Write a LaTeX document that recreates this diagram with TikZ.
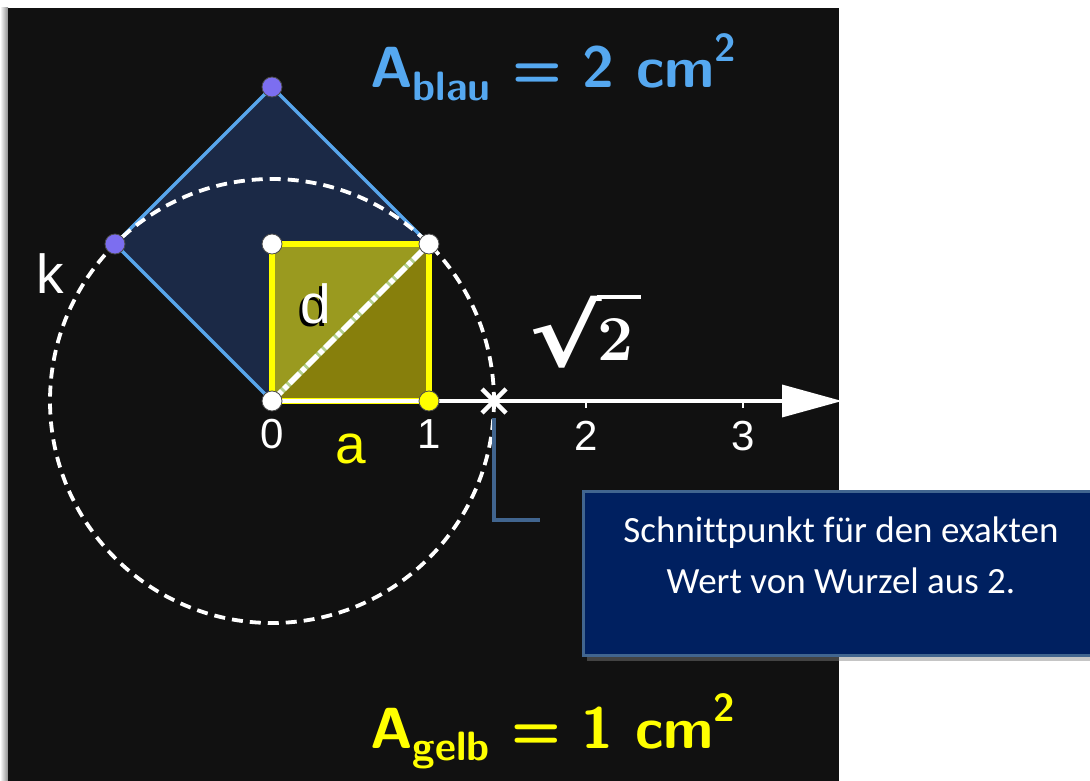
\documentclass[tikz,border=0pt]{standalone}
\usepackage{fontspec}
\usetikzlibrary{arrows.meta,shadows}
\newfontfamily\arialf{Liberation Sans}
\newfontfamily\calf[Ligatures=NoCommon]{Carlito}
\newfontfamily\djserif{DejaVu Serif}
\definecolor{panel}{HTML}{111111}
\definecolor{bluefill}{HTML}{1B2946}
\definecolor{blueedge}{HTML}{58A6EC}
\definecolor{olivelo}{HTML}{877F0C}
\definecolor{olivehi}{HTML}{9A9A1F}
\definecolor{ylw}{HTML}{FFFF00}
\definecolor{diaggreen}{HTML}{B4D08C}
\definecolor{ptpurple}{HTML}{7C6EF0}
\definecolor{callfill}{HTML}{002060}
\definecolor{calledge}{HTML}{41658F}
\definecolor{bluetext}{HTML}{55A8F0}
\tikzset{
  pt/.style={circle,draw=black!70,line width=0.8pt,inner sep=0pt,minimum size=20pt},
  whitept/.style={pt,fill=white},
  purplept/.style={pt,fill=ptpurple},
  yellowpt/.style={pt,fill=ylw},
  ticklbl/.style={text=white,font={\arialf\fontsize{42}{42}\selectfont},anchor=base,inner sep=0pt},
  letterlbl/.style={font={\arialf\fontsize{55}{55}\selectfont},anchor=base,inner sep=0pt},
  radlbl/.style={text=white,anchor=base,inner sep=0pt,font={\djserif\bfseries\fontsize{85}{85}\selectfont}},
  twolbl/.style={text=white,anchor=base,inner sep=0pt,font={\rmfamily\bfseries\fontsize{64}{64}\selectfont}},
  arealbl/.style={font={\sffamily\bfseries\fontsize{58}{58}\selectfont},anchor=base west,inner sep=0pt},
  callbox/.style={draw=calledge,line width=3pt,fill=callfill,
     drop shadow={opacity=0.45,shadow xshift=3pt,shadow yshift=-5pt}},
  calltext/.style={text=white,align=center,font={\calf\fontsize{37}{51}\selectfont}},
  conn/.style={draw=calledge,line width=3.5pt},
}
\begin{document}
\begin{tikzpicture}[x=1pt,y=-1pt]
\useasboundingbox (0,0) rectangle (1090,781);
\fill[white] (0,0) rectangle (1090,781);
\shade[left color=white,right color=black!45] (0,8) rectangle (8,781);
\fill[panel] (8,8) rectangle (839,781);

% points
\coordinate (O) at (272,401);
\coordinate (P1) at (429,401);
\coordinate (Q) at (272,244);
\coordinate (R) at (429,244);
\coordinate (T) at (272,87);
\coordinate (L) at (115,244);
\coordinate (S) at (494,401);
\coordinate (E) at (842,401);

% blue square
\filldraw[fill=bluefill,draw=blueedge,line width=3.5pt,line join=round] (O) -- (R) -- (T) -- (L) -- cycle;
% yellow square
\fill[olivelo] (O) -- (P1) -- (R) -- cycle;
\fill[olivehi] (O) -- (Q) -- (R) -- cycle;
\draw[ylw,line width=6.5pt,line join=miter] (O) -- (P1) -- (R) -- (Q) -- cycle;
% diagonal d
\draw[diaggreen,line width=5.5pt] (O) -- (R);
\draw[white,line width=5.5pt,dash pattern=on 14pt off 3pt on 5pt off 3pt] (O) -- (R);
% circle k
\draw[white,line width=3.8pt,dash pattern=on 11pt off 7pt] (O) circle[radius=222];
% axis
\draw[white,line width=3.5pt,-{Triangle[length=60pt,width=32pt]}] (O) -- (E);
\draw[white,line width=2.5pt] (586,401) -- (586,408);
\draw[white,line width=2.5pt] (743,401) -- (743,408);
% cross at sqrt 2
\draw[white,line width=4.5pt] ([shift={(-12,-12)}]S) -- ([shift={(12,12)}]S);
\draw[white,line width=4.5pt] ([shift={(-12,12)}]S) -- ([shift={(12,-12)}]S);

% vertex points
\node[whitept] (nO) at (O) {};
\node[whitept] (nQ) at (Q) {};
\node[whitept] (nR) at (R) {};
\node[yellowpt] (nP1) at (P1) {};
\node[purplept] (nT) at (T) {};
\node[purplept] (nL) at (L) {};

% labels
\node[ticklbl] (l0) at (272,448) {0};
\node[ticklbl] (l1) at (429,448) {1};
\node[ticklbl] (l2) at (586,450) {2};
\node[ticklbl] (l3) at (743,450) {3};
\node[letterlbl,text=ylw] (la) at (351,463) {a};
\node[letterlbl,text=black] (ldsh) at (313,326) {d};
\node[letterlbl,text=white] (ld) at (316,323) {d};
\node[letterlbl,text=white] (lk) at (50,293) {k};
\node[radlbl] (lrad) at (566,366) {\scalebox{1.3}[1]{√}};
\node[twolbl] (ltwo) at (616,360) {2};
\draw[white,line width=4.5pt] (597,297) -- (641,297);

\node[arealbl,text=bluetext] (ablau) at (370,88) {A\raisebox{-0.22em}{\fontsize{41}{41}\selectfont blau} = 2 cm\raisebox{0.45em}{\fontsize{39}{39}\selectfont 2}};
\node[arealbl,text=ylw] (agelb) at (370,748) {A\raisebox{-0.22em}{\fontsize{41}{41}\selectfont gelb} = 1 cm\raisebox{0.45em}{\fontsize{39}{39}\selectfont 2}};

% callout
\coordinate (cstart) at (494,418);
\coordinate (cend) at (540,520);
\draw[conn] (cstart) |- (cend);
\node[callbox,anchor=north west,minimum width=520pt,minimum height=164pt] (box) at (582,490) {};
\node[calltext] (boxtext) at (841,555) {Schnittpunkt für den exakten\\Wert von Wurzel aus 2.};
\end{tikzpicture}
\end{document}
